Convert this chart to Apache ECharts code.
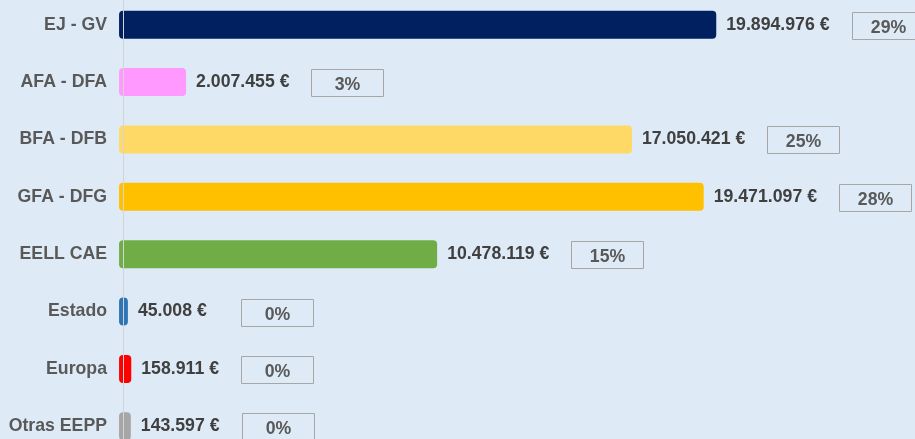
<!DOCTYPE html>
<html><head><meta charset="utf-8">
<script src="https://cdn.jsdelivr.net/npm/echarts@6/dist/echarts.min.js"></script>
<style>html,body{margin:0;padding:0;background:#deebf7}#c{width:915px;height:439px}</style>
</head><body><div id="c"></div>
<script>
const categories = ['EJ - GV','AFA - DFA','BFA - DFB','GFA - DFG','EELL CAE','Estado','Europa','Otras EEPP'];
const values = [19894976, 2007455, 17050421, 19471097, 10478119, 45008, 158911, 143597];
const pctLabels = ['29%','3%','25%','28%','15%','0%','0%','0%'];
const colors = ['#002060','#ff99ff','#ffd966','#ffc000','#70ad47','#2e75b6','#ff0000','#a6a6a6'];

function fmtEuro(v){ return String(v).replace(/\B(?=(\d{3})+(?!\d))/g,'.') + ' €'; }
const FONT = 'bold 17.7px "Liberation Sans", Arial, sans-serif';
const mctx = document.createElement('canvas').getContext('2d');
mctx.font = FONT;
function tw(t){ return mctx.measureText(t).width; }

const chart = echarts.init(document.getElementById('c'), null, {renderer:'canvas'});
chart.setOption({
  backgroundColor: '#deebf7',
  animation: false,
  grid: { left: 123, right: 0, top: -4, bottom: -16, outerBoundsMode: 'none', containLabel: false },
  xAxis: { type: 'value', min: -120000, max: 26600000, show: false },
  yAxis: {
    type: 'category', inverse: true, data: categories, z: 10,
    axisLine: { show: true, onZero: false, lineStyle: { color: '#d4d4d4', width: 1 } },
    axisTick: { show: false },
    splitLine: { show: false },
    axisLabel: { margin: 16, color: '#595959', fontWeight: 'bold', fontSize: 17.7, fontFamily: '"Liberation Sans", Arial, sans-serif' }
  },
  series: [{
    type: 'custom',
    clip: false,
    encode: { x: 0, y: 1 },
    data: values.map((v, i) => [v, i]),
    renderItem: function (params, api) {
      const i = params.dataIndex;
      const v = api.value(0);
      const c0 = api.coord([0, i]);
      const c1 = api.coord([v, i]);
      const h = 28;
      const x0 = c0[0] - 7.5;
      const cy = c1[1];
      const txt = fmtEuro(values[i]);
      const lx = c1[0] + 10;
      const bx = Math.round(Math.max(lx + tw(txt) + 22, c0[0] + 114.5)) + 0.5;
      const by = Math.round(cy - 13) + 0.5;
      return {
        type: 'group',
        children: [
          { type: 'rect', shape: { x: x0, y: cy - h / 2, width: c1[0] - x0, height: h, r: 4 }, style: { fill: colors[i] } },
          { type: 'text', x: lx, y: cy, style: { text: txt, fill: '#404040', font: FONT, align: 'left', verticalAlign: 'middle' } },
          { type: 'rect', shape: { x: bx, y: by, width: 72, height: 27 }, style: { fill: 'none', stroke: '#a6a6a6', lineWidth: 1 } },
          { type: 'text', x: bx + 36, y: by + 16, style: { text: pctLabels[i], fill: '#595959', font: FONT, align: 'center', verticalAlign: 'middle' } }
        ]
      };
    }
  }]
});
</script></body></html>
